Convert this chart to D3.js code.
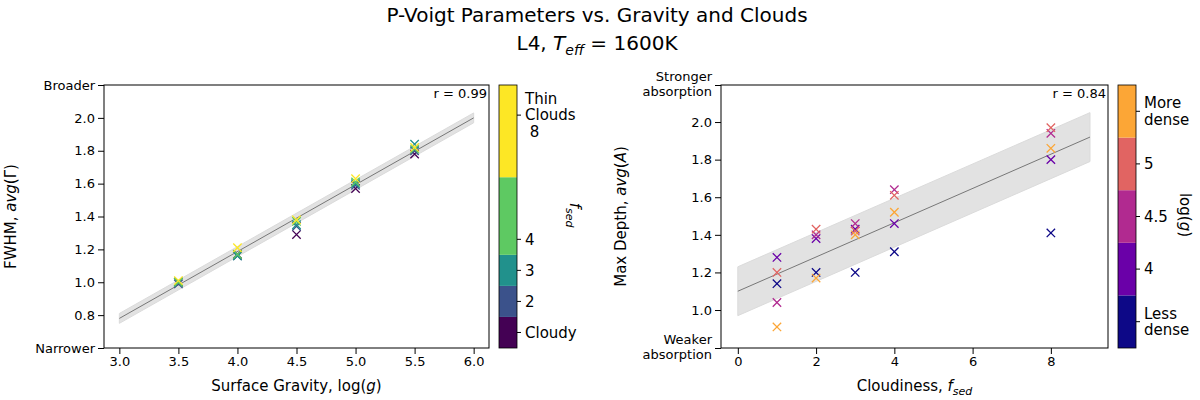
<!DOCTYPE html>
<html>
<head>
<script src="https://d3js.org/d3.v7.min.js"></script>
<style>
body { margin: 0; background: #fff; }
text { font-family: "DejaVu Sans", sans-serif; }
</style>
</head>
<body>
<div id="chart"></div>
<script>
// left panel: FWHM vs gravity, coloured by fsed
var gravity = [3.5, 4.0, 4.5, 5.0, 5.5];
var fsedLevels = [1, 2, 3, 4, 8];
// fwhm[fsedIndex][gravityIndex]
var fwhm = [
  [1.00, 1.17, 1.29, 1.57, 1.78],
  [0.99, 1.16, 1.34, 1.59, 1.80],
  [1.00, 1.16, 1.35, 1.60, 1.84],
  [1.00, 1.17, 1.37, 1.61, 1.81],
  [1.01, 1.21, 1.38, 1.63, 1.82]
];
var fitLeft = [[3.0, 0.78], [6.0, 2.00]];
var bandLeft = 0.03;

// right panel: depth vs fsed, coloured by log g
var fsedX = [1, 2, 3, 4, 8];
var loggLevels = [3.5, 4.0, 4.5, 5.0, 5.5];
// depth[loggIndex][fsedIndex]
var depth = [
  [1.14, 1.20, 1.20, 1.31, 1.41],
  [1.28, 1.38, 1.43, 1.46, 1.80],
  [1.04, 1.40, 1.46, 1.64, 1.94],
  [1.20, 1.43, 1.42, 1.61, 1.97],
  [0.91, 1.17, 1.40, 1.52, 1.86]
];
var fitRight = [[0, 1.10], [9, 1.92]];
var bandRight = 0.13;

var viridis = ["#440154", "#3b528b", "#21918c", "#5ec962", "#fde725"];
var plasma = ["#0d0887", "#6a00a8", "#b12a90", "#e16462", "#fca636"];

var svg = d3.select("#chart").append("svg").attr("width", 1200).attr("height", 400);

svg.append("text").attr("x", 597).attr("y", 22).attr("text-anchor", "middle")
  .style("font-size", "20px").text("P-Voigt Parameters vs. Gravity and Clouds");
var t2 = svg.append("text").attr("x", 597).attr("y", 50).attr("text-anchor", "middle").style("font-size", "20px");
t2.append("tspan").text("L4, ");
t2.append("tspan").style("font-style", "italic").text("T");
t2.append("tspan").attr("dy", 5).style("font-size", "14px").style("font-style", "italic").text("eff");
t2.append("tspan").attr("dy", -5).text(" = 1600K");

function xmark(g, x, y, c) {
  var s = 4.2;
  g.append("path").attr("d", "M" + (x - s) + "," + (y - s) + "L" + (x + s) + "," + (y + s) +
    "M" + (x - s) + "," + (y + s) + "L" + (x + s) + "," + (y - s))
    .attr("stroke", c).attr("stroke-width", 1.3).attr("fill", "none");
}

function panel(o) {
  var g = svg.append("g").attr("transform", "translate(" + o.left + ",85)");
  var w = o.width, h = 263;
  var x = d3.scaleLinear().domain(o.xd).range([0, w]);
  var y = d3.scaleLinear().domain(o.yd).range([h, 0]);

  // band + fit
  var f = o.fit;
  g.append("path").attr("fill", "#d9d9d9").attr("opacity", 0.75).attr("stroke", "#cfcfcf")
    .attr("d", "M" + x(f[0][0]) + "," + y(f[0][1] + o.band) + "L" + x(f[1][0]) + "," + y(f[1][1] + o.band) +
      "L" + x(f[1][0]) + "," + y(f[1][1] - o.band) + "L" + x(f[0][0]) + "," + y(f[0][1] - o.band) + "Z");
  g.append("line").attr("x1", x(f[0][0])).attr("y1", y(f[0][1])).attr("x2", x(f[1][0])).attr("y2", y(f[1][1]))
    .attr("stroke", "#777").attr("stroke-width", 1);

  o.vals.forEach(function(row, i) {
    row.forEach(function(v, j) { xmark(g, x(o.xs[j]), y(v), o.colors[i]); });
  });

  var ax = g.append("g").attr("transform", "translate(0," + h + ")")
    .call(d3.axisBottom(x).tickValues(o.xt).tickFormat(o.xf).tickSizeOuter(0));
  var ay = g.append("g").call(d3.axisLeft(y).tickValues(o.yt).tickFormat(o.yf).tickSizeOuter(0));
  [ax, ay].forEach(function(a) {
    a.selectAll("text").style("font-size", "13px").style("font-family", "DejaVu Sans");
    a.select(".domain").remove();
  });
  ay.selectAll("text").each(function(d) {
    var lab = o.yf(d);
    if (lab.indexOf("\n") >= 0) {
      var el = d3.select(this).text(null);
      lab.split("\n").forEach(function(s, k) {
        el.append("tspan").attr("x", -9).attr("dy", k === 0 ? "-0.35em" : "1.15em").text(s);
      });
    }
  });
  g.append("rect").attr("width", w).attr("height", h).attr("fill", "none").attr("stroke", "#000");
  g.append("text").attr("x", w - 2).attr("y", 13).attr("text-anchor", "end").style("font-size", "13px").text(o.r);

  // x label
  var xl = g.append("text").attr("x", w / 2).attr("y", h + 43).attr("text-anchor", "middle").style("font-size", "15px");
  o.xl(xl);
  var yl = g.append("text").attr("transform", "translate(" + o.ylx + "," + (h / 2) + ") rotate(-90)")
    .attr("text-anchor", "middle").style("font-size", "15px");
  o.yl(yl);

  // colorbar
  var cb = svg.append("g").attr("transform", "translate(" + (o.left + w + 10) + ",85)");
  var cy = d3.scaleLinear().domain(o.cbd).range([h, 0]);
  for (var i = 0; i < o.colors.length; i++) {
    cb.append("rect").attr("x", 0).attr("width", 18)
      .attr("y", cy(o.cbb[i + 1])).attr("height", cy(o.cbb[i]) - cy(o.cbb[i + 1]))
      .attr("fill", o.colors[i]);
  }
  cb.append("rect").attr("width", 18).attr("height", h).attr("fill", "none").attr("stroke", "#000").attr("stroke-width", 0.8);
  o.cbt.forEach(function(t) {
    var yy = cy(t.v);
    cb.append("line").attr("x1", 18).attr("x2", 22).attr("y1", yy).attr("y2", yy).attr("stroke", "#000");
    var tx = cb.append("text").attr("x", 26).attr("y", yy).style("font-size", "15px");
    var parts = t.label.split("\n");
    parts.forEach(function(s, k) {
      tx.append("tspan").attr("x", 26).attr("dy", k === 0 ? (0.35 - (parts.length - 1) * 0.55) + "em" : "1.1em").text(s);
    });
  });
  var cl = svg.append("text").attr("transform", "translate(" + o.cblx + ",215) rotate(90)")
    .attr("text-anchor", "middle").style("font-size", "15px");
  o.cbl(cl);
}

panel({
  left: 104, width: 385, xd: [2.87, 6.13], yd: [0.6, 2.2],
  xs: gravity, vals: fwhm, colors: viridis, fit: fitLeft, band: bandLeft,
  xt: [3.0, 3.5, 4.0, 4.5, 5.0, 5.5, 6.0], xf: d3.format(".1f"),
  yt: [0.6, 0.8, 1.0, 1.2, 1.4, 1.6, 1.8, 2.0, 2.2],
  yf: function(d) { return Math.abs(d - 0.6) < 1e-6 ? "Narrower" : Math.abs(d - 2.2) < 1e-6 ? "Broader" : d3.format(".1f")(d); },
  r: "r = 0.99",
  xl: function(t) { t.append("tspan").text("Surface Gravity, log("); t.append("tspan").style("font-style", "italic").text("g"); t.append("tspan").text(")"); },
  ylx: -88,
  yl: function(t) { t.append("tspan").text("FWHM, "); t.append("tspan").style("font-style", "italic").text("avg"); t.append("tspan").text("(Γ)"); },
  cbd: [0.5, 8.97], cbb: [0.5, 1.5, 2.5, 3.5, 6, 8.97],
  cbt: [{v: 1, label: "Cloudy"}, {v: 2, label: "2"}, {v: 3, label: "3"}, {v: 4, label: "4"}, {v: 8, label: "Thin\nClouds\n 8"}],
  cblx: 570,
  cbl: function(t) { t.append("tspan").style("font-style", "italic").text("f"); t.append("tspan").attr("dy", 4).style("font-size", "11px").style("font-style", "italic").text("sed"); }
});

panel({
  left: 721, width: 387, xd: [-0.43, 9.46], yd: [0.798, 2.197],
  xs: fsedX, vals: depth, colors: plasma, fit: fitRight, band: bandRight,
  xt: [0, 2, 4, 6, 8], xf: d3.format("d"),
  yt: [0.798, 1.0, 1.2, 1.4, 1.6, 1.8, 2.0, 2.197],
  yf: function(d) { return d < 0.9 ? "Weaker\nabsorption" : d > 2.1 ? "Stronger\nabsorption" : d3.format(".1f")(d); },
  r: "r = 0.84",
  xl: function(t) { t.append("tspan").text("Cloudiness, "); t.append("tspan").style("font-style", "italic").text("f"); t.append("tspan").attr("dy", 4).style("font-size", "11px").style("font-style", "italic").text("sed"); },
  ylx: -95,
  yl: function(t) { t.append("tspan").text("Max Depth, "); t.append("tspan").style("font-style", "italic").text("avg"); t.append("tspan").text("("); t.append("tspan").style("font-style", "italic").text("A"); t.append("tspan").text(")"); },
  cbd: [0, 5], cbb: [0, 1, 2, 3, 4, 5],
  cbt: [{v: 0.5, label: "Less\ndense"}, {v: 1.5, label: "4"}, {v: 2.5, label: "4.5"}, {v: 3.5, label: "5"}, {v: 4.5, label: "More\ndense"}],
  cblx: 1180,
  cbl: function(t) { t.append("tspan").text("log("); t.append("tspan").style("font-style", "italic").text("g"); t.append("tspan").text(")"); }
});
</script>
</body>
</html>
